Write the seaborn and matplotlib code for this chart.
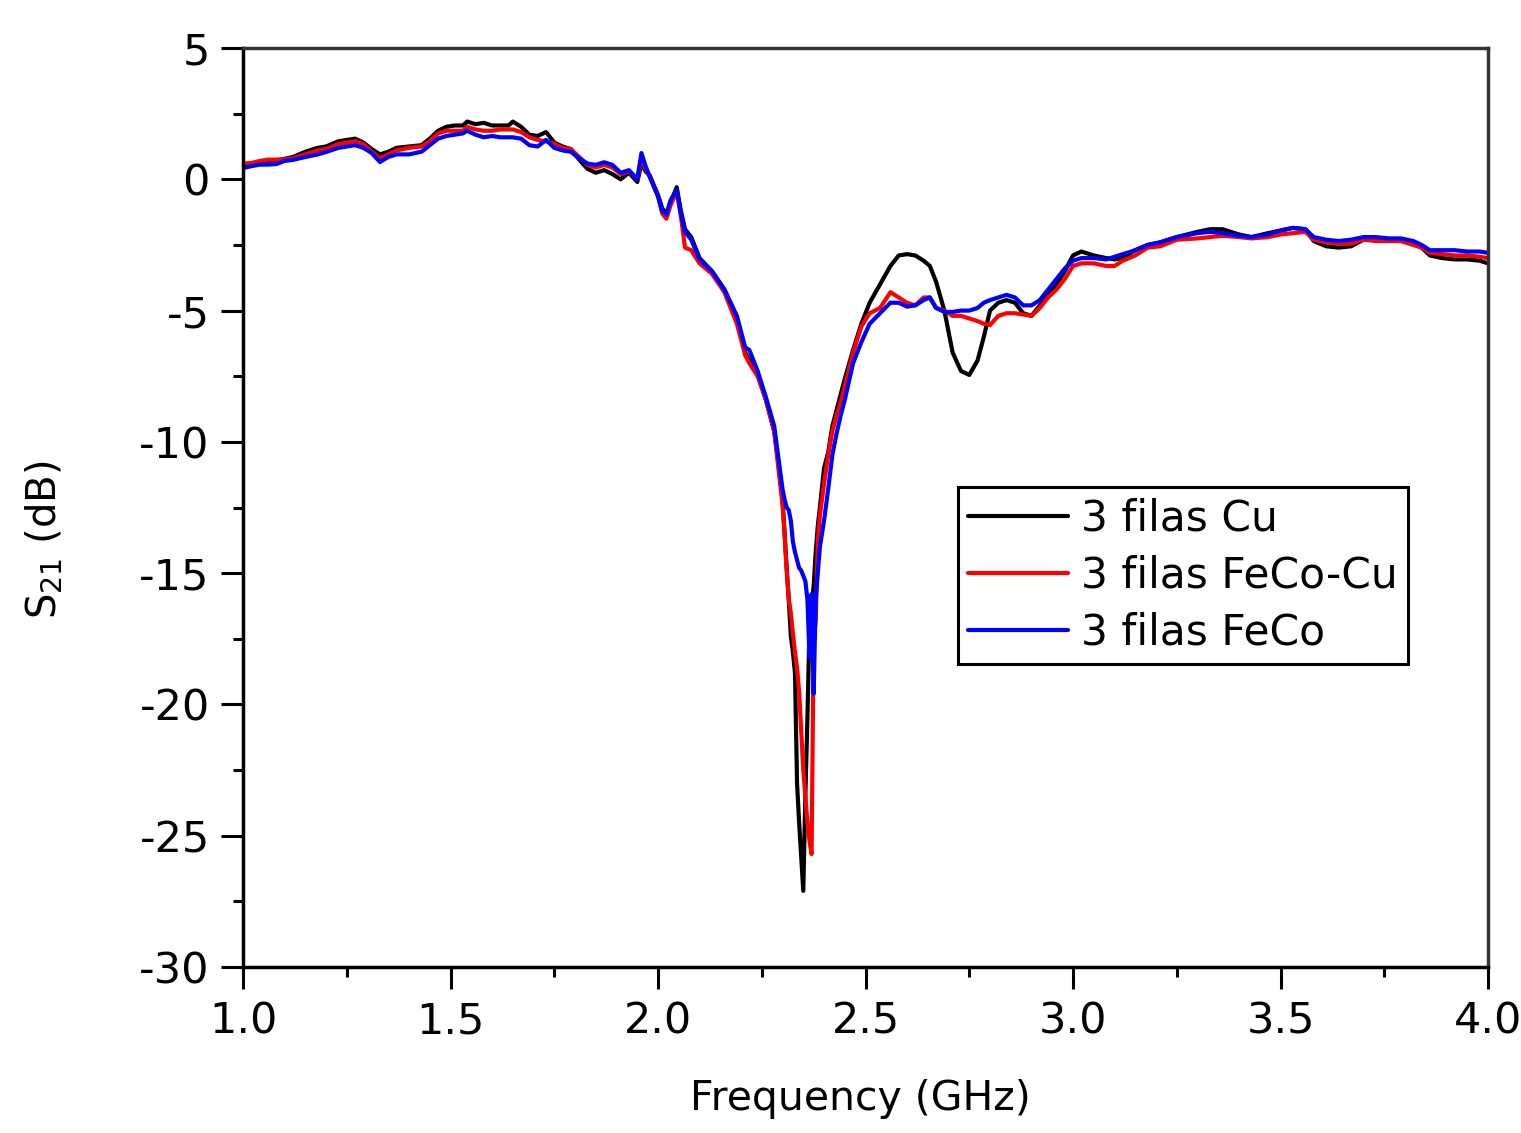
"""S21 vs frequency for three 3-row samples (Cu, FeCo-Cu, FeCo)"""
import matplotlib
matplotlib.use("Agg")
import matplotlib.pyplot as plt
import pandas as pd
import seaborn as sns
from matplotlib.lines import Line2D
from matplotlib.ticker import MultipleLocator

FREQ_GHZ = [
    1.00, 1.02, 1.04, 1.06, 1.08, 1.10, 1.12, 1.15, 1.18, 1.20,
    1.23, 1.25, 1.27, 1.29, 1.31, 1.33, 1.35, 1.37, 1.40, 1.43,
    1.45, 1.47, 1.49, 1.51, 1.53, 1.54, 1.56, 1.58, 1.60, 1.62,
    1.64, 1.65, 1.67, 1.69, 1.71, 1.73, 1.75, 1.77, 1.79, 1.81,
    1.83, 1.85, 1.87, 1.89, 1.91, 1.93, 1.95, 1.96, 1.97, 1.98,
    2.00, 2.01, 2.02, 2.03, 2.045, 2.055, 2.065, 2.08, 2.10, 2.13,
    2.16, 2.19, 2.21, 2.22, 2.24, 2.26, 2.28, 2.29, 2.30, 2.305,
    2.31, 2.315, 2.32, 2.325, 2.33, 2.335, 2.34, 2.345, 2.35, 2.355,
    2.36, 2.365, 2.37, 2.375, 2.38, 2.385, 2.39, 2.40, 2.41, 2.42,
    2.43, 2.44, 2.45, 2.47, 2.49, 2.51, 2.535, 2.56, 2.58, 2.60,
    2.62, 2.64, 2.655, 2.67, 2.69, 2.71, 2.73, 2.75, 2.77, 2.785,
    2.80, 2.82, 2.84, 2.86, 2.88, 2.90, 2.92, 2.94, 2.96, 2.98,
    3.00, 3.02, 3.05, 3.08, 3.10, 3.12, 3.15, 3.18, 3.21, 3.25,
    3.30, 3.33, 3.36, 3.40, 3.43, 3.47, 3.50, 3.53, 3.56, 3.58,
    3.61, 3.64, 3.67, 3.70, 3.73, 3.76, 3.79, 3.82, 3.84, 3.86,
    3.89, 3.92, 3.95, 3.98, 4.00,
]

S21_CU = [
    0.50, 0.55, 0.62, 0.70, 0.72, 0.78, 0.85, 1.05, 1.20, 1.25,
    1.45, 1.50, 1.55, 1.40, 1.15, 0.95, 1.05, 1.20, 1.25, 1.30,
    1.55, 1.85, 2.00, 2.05, 2.05, 2.20, 2.10, 2.15, 2.05, 2.05,
    2.05, 2.20, 2.00, 1.70, 1.65, 1.80, 1.40, 1.25, 1.15, 0.75,
    0.40, 0.25, 0.35, 0.20, 0.00, 0.25, -0.10, 0.60, 0.30, 0.15,
    -0.60, -1.10, -1.30, -0.90, -0.30, -1.20, -1.90, -2.20, -3.00, -3.50,
    -4.20, -5.30, -6.60, -6.90, -7.40, -8.40, -9.60, -10.8, -12.2, -13.5,
    -14.8, -16.0, -17.4, -18.0, -18.8, -23.0, -24.5, -25.8, -27.1, -23.5,
    -20.5, -17.0, -16.2, -15.5, -14.2, -13.2, -12.5, -11.0, -10.4, -9.4,
    -8.8, -8.2, -7.6, -6.5, -5.5, -4.7, -4.0, -3.3, -2.9, -2.85,
    -2.9, -3.1, -3.3, -3.9, -5.0, -6.6, -7.3, -7.45, -6.9, -6.0,
    -5.0, -4.7, -4.6, -4.7, -5.1, -5.2, -4.8, -4.4, -4.0, -3.5,
    -2.9, -2.75, -2.9, -3.0, -3.05, -3.0, -2.7, -2.5, -2.4, -2.2,
    -2.0, -1.9, -1.9, -2.1, -2.2, -2.05, -1.95, -1.85, -1.9, -2.35,
    -2.55, -2.6, -2.55, -2.3, -2.25, -2.3, -2.3, -2.45, -2.6, -2.9,
    -3.0, -3.05, -3.05, -3.1, -3.2,
]

S21_FECO_CU = [
    0.60, 0.62, 0.70, 0.75, 0.75, 0.76, 0.80, 0.95, 1.10, 1.15,
    1.35, 1.40, 1.45, 1.35, 1.05, 0.80, 0.95, 1.10, 1.20, 1.25,
    1.45, 1.75, 1.85, 1.85, 1.85, 2.00, 1.90, 1.85, 1.85, 1.90,
    1.90, 1.90, 1.80, 1.60, 1.50, 1.45, 1.35, 1.20, 1.15, 0.85,
    0.55, 0.45, 0.55, 0.45, 0.20, 0.30, 0.00, 0.80, 0.40, 0.10,
    -0.65, -1.30, -1.50, -1.00, -0.45, -1.40, -2.60, -2.70, -3.20, -3.60,
    -4.30, -5.50, -6.70, -7.00, -7.50, -8.40, -9.60, -11.0, -12.4, -13.5,
    -14.9, -16.0, -16.5, -17.3, -18.0, -18.6, -19.5, -21.0, -22.5, -23.5,
    -24.5, -25.2, -25.7, -17.5, -16.8, -13.8, -12.8, -11.6, -10.5, -9.6,
    -9.0, -8.5, -7.9, -6.6, -5.6, -5.1, -4.9, -4.3, -4.5, -4.7,
    -4.8, -4.5, -4.5, -4.9, -5.0, -5.2, -5.2, -5.3, -5.4, -5.5,
    -5.55, -5.2, -5.1, -5.1, -5.15, -5.2, -4.9, -4.5, -4.2, -3.8,
    -3.3, -3.2, -3.2, -3.3, -3.3, -3.1, -2.9, -2.6, -2.55, -2.3,
    -2.25, -2.2, -2.15, -2.2, -2.25, -2.2, -2.1, -2.05, -2.0, -2.3,
    -2.4, -2.45, -2.45, -2.3, -2.35, -2.35, -2.35, -2.5, -2.6, -2.8,
    -2.85, -2.9, -2.9, -2.95, -3.0,
]

S21_FECO = [
    0.43, 0.50, 0.56, 0.56, 0.58, 0.70, 0.74, 0.85, 0.95, 1.04,
    1.20, 1.25, 1.30, 1.20, 1.00, 0.66, 0.85, 0.95, 0.95, 1.05,
    1.30, 1.55, 1.65, 1.70, 1.75, 1.85, 1.70, 1.60, 1.65, 1.60,
    1.60, 1.60, 1.55, 1.30, 1.25, 1.50, 1.20, 1.10, 1.05, 0.80,
    0.60, 0.55, 0.65, 0.55, 0.25, 0.35, 0.00, 1.00, 0.50, 0.10,
    -0.65, -1.20, -1.35, -0.80, -0.40, -1.30, -2.00, -2.30, -3.05, -3.50,
    -4.20, -5.20, -6.40, -6.50, -7.30, -8.30, -9.40, -10.6, -11.8, -12.2,
    -12.5, -12.6, -13.0, -13.8, -14.2, -14.5, -14.8, -14.9, -15.1, -15.3,
    -16.0, -18.2, -15.8, -19.6, -16.0, -15.0, -14.0, -13.0, -11.8, -10.5,
    -9.7, -9.0, -8.4, -7.0, -6.2, -5.5, -5.1, -4.7, -4.7, -4.85,
    -4.8, -4.6, -4.5, -4.9, -5.05, -5.05, -5.0, -5.0, -4.9, -4.7,
    -4.6, -4.5, -4.4, -4.5, -4.8, -4.8, -4.6, -4.2, -3.8, -3.4,
    -3.1, -3.0, -3.0, -3.05, -2.95, -2.85, -2.7, -2.5, -2.4, -2.2,
    -2.05, -2.0, -2.05, -2.15, -2.2, -2.1, -1.95, -1.85, -1.9, -2.2,
    -2.3, -2.35, -2.3, -2.2, -2.2, -2.25, -2.25, -2.35, -2.5, -2.7,
    -2.7, -2.7, -2.75, -2.75, -2.8,
]

SERIES = ["3 filas Cu", "3 filas FeCo-Cu", "3 filas FeCo"]
PALETTE = {"3 filas Cu": "black", "3 filas FeCo-Cu": "#ff0000",
           "3 filas FeCo": "#0000ff"}

sns.set_style("ticks")
plt.rcParams["font.family"] = ["DejaVu Sans"]
plt.rcParams["axes.unicode_minus"] = False
plt.rcParams["text.color"] = "black"
plt.rcParams["axes.labelcolor"] = "black"
plt.rcParams["xtick.color"] = "black"
plt.rcParams["ytick.color"] = "black"

df = pd.concat(
    [pd.DataFrame({"freq": FREQ_GHZ, "s21": vals, "serie": name})
     for name, vals in zip(SERIES, [S21_CU, S21_FECO_CU, S21_FECO])],
    ignore_index=True,
)

fig = plt.figure(figsize=(15.21, 11.33), dpi=100)
ax = fig.add_axes([0.1598, 0.1465, 0.8185, 0.8111])

sns.lineplot(
    data=df, x="freq", y="s21", hue="serie", hue_order=SERIES,
    palette=PALETTE, estimator=None, sort=False, linewidth=3.0,
    ax=ax, legend=False,
)

ax.set_xlim(1.0, 4.0)
ax.set_ylim(-30, 5)
ax.xaxis.set_major_locator(MultipleLocator(0.5))
ax.xaxis.set_minor_locator(MultipleLocator(0.25))
ax.yaxis.set_major_locator(MultipleLocator(5))
ax.yaxis.set_minor_locator(MultipleLocator(2.5))
ax.xaxis.set_major_formatter(plt.FormatStrFormatter("%.1f"))
ax.yaxis.set_major_formatter(plt.FormatStrFormatter("%d"))

ax.tick_params(which="major", direction="out", length=16, width=2.2,
               labelsize=31, pad=8, color="black", labelcolor="black")
ax.tick_params(which="minor", direction="out", length=7, width=2.2,
               color="black")
ax.tick_params(top=False, right=False, which="both")

for side in ["left", "bottom"]:
    ax.spines[side].set_linewidth(2.5)
    ax.spines[side].set_color("black")
for side in ["top", "right"]:
    ax.spines[side].set_visible(True)
    ax.spines[side].set_linewidth(2.5)
    ax.spines[side].set_color("#333333")

ax.set_xlabel("Frequency (GHz)", fontsize=29.5, color="black")
ax.set_ylabel(r"S$_{\mathregular{21}}$ (dB)", fontsize=29, color="black")
ax.xaxis.set_label_coords(0.496, -0.122)
ax.yaxis.set_label_coords(-0.143, 0.465)

handles = [Line2D([], [], color=PALETTE[s], lw=3.0) for s in SERIES]
leg = ax.legend(
    handles, SERIES, loc="upper left", bbox_to_anchor=(0.574, 0.522),
    borderaxespad=0, fontsize=30.5, frameon=True, fancybox=False,
    edgecolor="black", framealpha=1, handlelength=2.36,
    handletextpad=0.3, labelspacing=0.35, borderpad=0.25,
)
leg.get_frame().set_linewidth(2.2)
for txt in leg.get_texts():
    txt.set_color("black")

fig.savefig("out.png", dpi=100)
